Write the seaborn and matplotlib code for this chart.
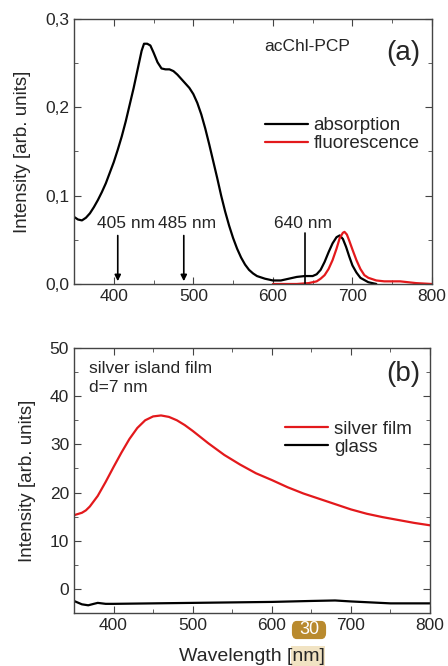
import matplotlib
matplotlib.use("Agg")
import matplotlib.pyplot as plt
import matplotlib.ticker as mticker
from matplotlib.patches import Rectangle, FancyBboxPatch
import seaborn as sns
import pandas as pd

sns.set_style("ticks")
plt.rcParams['font.family'] = ['Liberation Sans', 'DejaVu Sans']

# panel (a) - acChl-PCP spectra
abs_wl = [350, 355, 360, 365, 370, 375, 380, 385, 390, 395, 400, 405, 410, 415, 420,
          425, 430, 435, 438, 442, 446, 450, 455, 460, 465, 470, 475, 480, 485, 490,
          495, 500, 505, 510, 515, 520, 525, 530, 535, 540, 545, 550, 555, 560, 565,
          570, 575, 580, 590, 600, 610, 620, 630, 640, 650, 655, 660, 665, 670, 675,
          680, 684, 688, 692, 696, 700, 705, 710, 720, 730]
abs_val = [0.076, 0.073, 0.072, 0.075, 0.080, 0.087, 0.095, 0.104, 0.114, 0.126, 0.138,
           0.152, 0.167, 0.184, 0.203, 0.222, 0.243, 0.264, 0.272, 0.272, 0.270, 0.262,
           0.251, 0.244, 0.243, 0.243, 0.241, 0.237, 0.232, 0.227, 0.222, 0.215, 0.205,
           0.192, 0.176, 0.158, 0.139, 0.120, 0.100, 0.082, 0.066, 0.052, 0.040, 0.030,
           0.022, 0.016, 0.012, 0.009, 0.006, 0.004, 0.004, 0.006, 0.008, 0.009, 0.009,
           0.011, 0.016, 0.025, 0.036, 0.046, 0.053, 0.055, 0.051, 0.042, 0.031, 0.021,
           0.013, 0.007, 0.002, 0.0]
fl_wl = [600, 630, 645, 655, 660, 665, 670, 675, 680, 684, 688, 690, 693, 696, 700,
         705, 710, 715, 720, 730, 740, 760, 780, 800]
fl_val = [0.0, 0.0, 0.001, 0.003, 0.006, 0.010, 0.017, 0.027, 0.040, 0.052, 0.058,
          0.059, 0.056, 0.049, 0.039, 0.027, 0.017, 0.010, 0.007, 0.004, 0.003, 0.003,
          0.001, 0.0]
excitation = [405, 488]
excitation_labels = ['405 nm', '485 nm']
excitation_label_x = [415, 492]
detect_wl = 640

# panel (b) - silver island film vs glass
sil_wl = [350, 360, 365, 370, 380, 390, 400, 410, 420, 430, 440, 450, 460, 470, 480,
          490, 500, 510, 520, 530, 540, 550, 560, 570, 580, 590, 600, 620, 640, 660,
          680, 700, 720, 740, 760, 780, 800]
sil_val = [15.3, 15.8, 16.3, 17.1, 19.3, 22.2, 25.3, 28.3, 31.1, 33.4, 35.0, 35.8, 36.0,
           35.7, 35.0, 34.0, 32.8, 31.5, 30.2, 29.0, 27.8, 26.8, 25.8, 24.9, 24.0, 23.3,
           22.6, 21.1, 19.8, 18.7, 17.6, 16.5, 15.6, 14.9, 14.3, 13.7, 13.2]
gl_wl = [350, 360, 368, 375, 380, 390, 400, 450, 500, 550, 600, 650, 680, 700, 750, 800]
gl_val = [-2.5, -3.2, -3.4, -3.1, -2.9, -3.1, -3.1, -3.0, -2.9, -2.8, -2.7, -2.5, -2.4,
          -2.6, -3.0, -3.0]

fig = plt.figure(figsize=(4.48, 6.66), dpi=100)
ax1 = fig.add_axes([74/448, 1 - 284/666, 358/448, 265/666])
ax2 = fig.add_axes([74/448, 1 - 613/666, 356/448, 265/666])

df_abs = pd.DataFrame({'wl': abs_wl, 'val': abs_val})
df_fl = pd.DataFrame({'wl': fl_wl, 'val': fl_val})
sns.lineplot(data=df_abs, x='wl', y='val', ax=ax1, color='black', lw=1.6, label='absorption')
sns.lineplot(data=df_fl, x='wl', y='val', ax=ax1, color='#e3191c', lw=1.6, label='fluorescence')
ax1.set_xlim(350, 800)
ax1.set_ylim(0, 0.3)
ax1.yaxis.set_major_locator(mticker.MultipleLocator(0.1))
ax1.yaxis.set_minor_locator(mticker.MultipleLocator(0.05))
ax1.yaxis.set_major_formatter(mticker.FuncFormatter(lambda v, p: f'{v:.1f}'.replace('.', ',')))

for wl, lx, lab in zip(excitation, excitation_label_x, excitation_labels):
    ax1.annotate('', xy=(wl, 0.0), xytext=(wl, 0.058),
                 arrowprops=dict(arrowstyle='-|>', color='black', lw=1.2, mutation_scale=9))
    ax1.text(lx, 0.069, lab, ha='center', va='center', fontsize=12.5)
ax1.plot([detect_wl, detect_wl], [0.0, 0.058], color='black', lw=1.2)
ax1.text(638, 0.069, '640 nm', ha='center', va='center', fontsize=12.5)
ax1.text(589, 0.269, 'acChl-PCP', ha='left', va='center', fontsize=12.5)
ax1.text(786, 0.262, '(a)', ha='right', va='center', fontsize=20)
ax1.legend(loc='center left', bbox_to_anchor=(0.533, 0.564), frameon=False, fontsize=13.5,
           handlelength=2.3, handletextpad=0.3, labelspacing=0.05, borderaxespad=0, borderpad=0)
ax1.set_xlabel('')
ax1.set_ylabel('Intensity [arb. units]', fontsize=13.5, labelpad=10)

df_sil = pd.DataFrame({'wl': sil_wl, 'val': sil_val})
df_gl = pd.DataFrame({'wl': gl_wl, 'val': gl_val})
sns.lineplot(data=df_sil, x='wl', y='val', ax=ax2, color='#e3191c', lw=1.6, label='silver film')
sns.lineplot(data=df_gl, x='wl', y='val', ax=ax2, color='black', lw=1.6, label='glass')
ax2.set_xlim(350, 800)
ax2.set_ylim(-5, 50)
ax2.yaxis.set_major_locator(mticker.MultipleLocator(10))
ax2.yaxis.set_minor_locator(mticker.MultipleLocator(5))
ax2.text(369, 45.7, 'silver island film', ha='left', va='center', fontsize=12.5)
ax2.text(369, 41.7, 'd=7 nm', ha='left', va='center', fontsize=12.5)
ax2.text(788, 44.7, '(b)', ha='right', va='center', fontsize=20)
ax2.legend(loc='center left', bbox_to_anchor=(0.593, 0.659), frameon=False, fontsize=13.5,
           handlelength=2.3, handletextpad=0.3, labelspacing=0.05, borderaxespad=0, borderpad=0)
ax2.set_xlabel('Wavelength [nm]', fontsize=14, labelpad=11)
ax2.set_ylabel('Intensity [arb. units]', fontsize=13.5, labelpad=10)

for ax in (ax1, ax2):
    ax.xaxis.set_major_locator(mticker.MultipleLocator(100))
    ax.xaxis.set_minor_locator(mticker.MultipleLocator(50))
    ax.tick_params(which='both', direction='in', top=True, right=True, color='#444444')
    ax.tick_params(which='major', length=5, labelsize=12.5)
    ax.tick_params(which='minor', length=3)
    for s in ax.spines.values():
        s.set_color('#444444')
        s.set_linewidth(1.0)

# page badge overlay and highlight seen in the source image
fig.patches.append(Rectangle((291/448, 0), 34/448, 20/666, transform=fig.transFigure,
                             fc='#f1e3c3', ec='none', zorder=-1))
fig.patches.append(FancyBboxPatch((294/448, 1 - 637/666), 30/448, 14/666,
                                  boxstyle='round,pad=0,rounding_size=0.006',
                                  transform=fig.transFigure, fc='#b98a2e', ec='#b98a2e',
                                  lw=3, zorder=5))
fig.text(309/448, 1 - 630/666, '30', ha='center', va='center', fontsize=13, color='white',
         zorder=6)

fig.savefig('out.png', dpi=100)
